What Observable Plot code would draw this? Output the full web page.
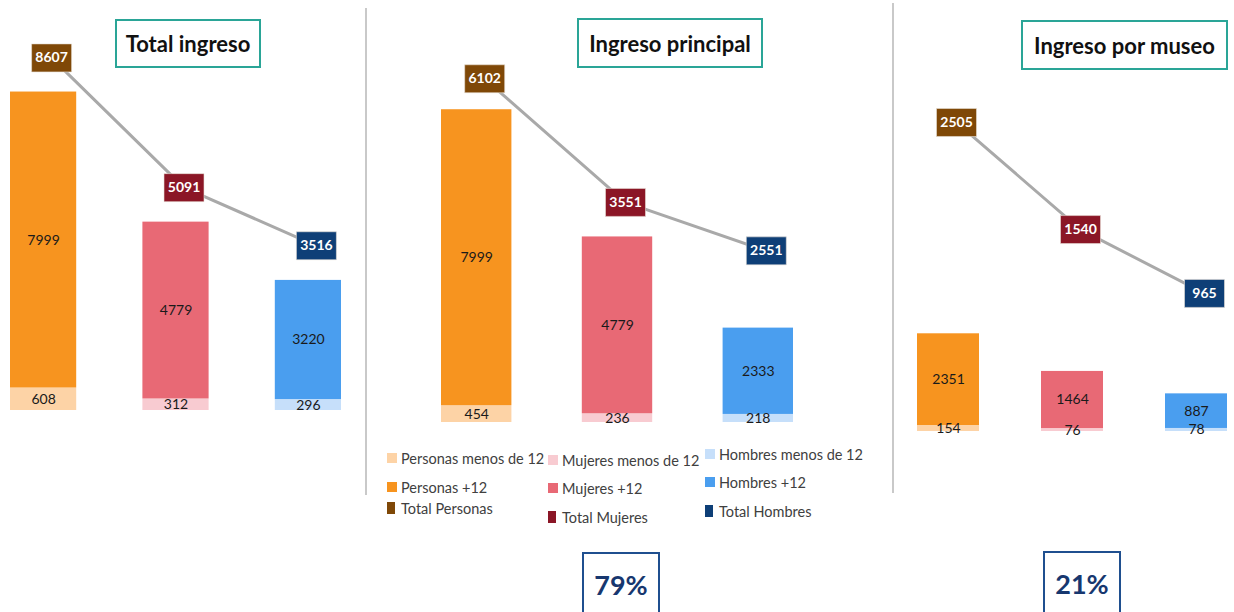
<!DOCTYPE html>
<html>
<head>
<meta charset="utf-8">
<script src="https://cdn.jsdelivr.net/npm/d3@7"></script>
<script src="https://cdn.jsdelivr.net/npm/@observablehq/plot@0.6"></script>
<style>
  html, body { margin: 0; padding: 0; background: #fff; }
  body { width: 1234px; height: 612px; overflow: hidden; font-family: Lato, "Open Sans", sans-serif; }
  #root { position: relative; width: 1234px; height: 612px; }
  .layer { position: absolute; top: 0; }
  .layer svg { position: absolute; left: 0; top: 0; overflow: visible; }
  .title { position: absolute; box-sizing: border-box; border: 2.5px solid #2aa597; background: #fff;
           display: flex; align-items: center; justify-content: center; font-weight: 700; font-size: 22px; color: #111; }
  .divider { position: absolute; width: 2px; background: #c9c9c9; }
  .leg { position: absolute; font-size: 14.5px; color: #404040; white-space: nowrap; display: flex; align-items: center; }
  .sw { display: inline-block; width: 10px; height: 10px; margin-right: 4px; }
  .pct { position: absolute; box-sizing: border-box; border: 2.5px solid #1f4f8f; display: flex; align-items: center;
         justify-content: center; font-weight: 700; font-size: 27px; color: #17376f; }
</style>
</head>
<body>
<div id="root"></div>
<script>
// ---------- data ----------
const categories = ["Personas", "Mujeres", "Hombres"];
const panelTitles = ["Total ingreso", "Ingreso principal", "Ingreso por museo"];
const under12 = [[608, 312, 296], [454, 236, 218], [154, 76, 78]];
const over12  = [[7999, 4779, 3220], [7999, 4779, 2333], [2351, 1464, 887]];
const totals  = [[8607, 5091, 3516], [6102, 3551, 2551], [2505, 1540, 965]];
const shares  = ["", "79%", "21%"];
const underColors = ["#fdd3a6", "#f8cbd1", "#c6dffa"];
const overColors  = ["#f7941f", "#e86975", "#4a9eef"];
const totalColors = ["#7f4807", "#8b1626", "#0e3f77"];
const legendUnder = ["Personas menos de 12", "Mujeres menos de 12", "Hombres menos de 12"];
const legendOver  = ["Personas +12", "Mujeres +12", "Hombres +12"];
const legendTotal = ["Total Personas", "Total Mujeres", "Total Hombres"];

// ---------- layout (styles only) ----------
const panelLayout = [
  {left: 0,   width: 366, ml: 10, mr: 25,  barZero: 410, barMax: 11081, lineZero: 375, lineMax: 10163,
   title: {left: 115, top: 19, w: 146, h: 49}},
  {left: 366, width: 527, ml: 75, mr: 100, barZero: 422, barMax: 11405, lineZero: 374, lineMax: 7717,
   title: {left: 577, top: 18, w: 186, h: 50}},
  {left: 893, width: 341, ml: 24, mr: 7,   barZero: 431, barMax: 11050, lineZero: 400, lineMax: 3604,
   title: {left: 1021, top: 20, w: 207, h: 50}}
];
const H = 440;
const root = document.getElementById("root");

const boxSymbol = { draw(ctx) { ctx.rect(-20, -14, 40, 28); } };

panelLayout.forEach((L, p) => {
  const layer = document.createElement("div");
  layer.className = "layer";
  layer.style.left = L.left + "px";
  layer.style.width = L.width + "px";
  layer.style.height = H + "px";
  root.appendChild(layer);

  const rows = [];
  categories.forEach((c, i) => {
    rows.push({cat: c, seg: "u", value: under12[p][i], color: underColors[i]});
    rows.push({cat: c, seg: "o", value: over12[p][i], color: overColors[i]});
  });
  const xOpt = {type: "band", domain: categories, axis: null, paddingInner: 0.5, paddingOuter: 0, round: false};

  const bars = Plot.plot({
    width: L.width, height: H, marginLeft: L.ml, marginRight: L.mr,
    marginTop: 0, marginBottom: H - L.barZero,
    x: xOpt, y: {domain: [0, L.barMax], axis: null}, color: {type: "identity"},
    style: {background: "transparent", overflow: "visible"},
    marks: [
      Plot.barY(rows, {x: "cat", y: "value", fill: "color"}),
      Plot.text(rows, Plot.stackY({x: "cat", y: "value", text: d => String(d.value),
        fill: "#1a1a1a", fontSize: 14, fontFamily: "Lato, sans-serif"}))
    ]
  });
  layer.appendChild(bars);

  const trows = categories.map((c, i) => ({cat: c, value: totals[p][i], color: totalColors[i]}));
  const lines = Plot.plot({
    width: L.width, height: H, marginLeft: L.ml, marginRight: L.mr,
    marginTop: 0, marginBottom: H - L.lineZero,
    x: xOpt, y: {domain: [0, L.lineMax], axis: null}, color: {type: "identity"},
    style: {background: "transparent", overflow: "visible"},
    marks: [
      Plot.line(trows, {x: "cat", y: "value", stroke: "#a9a9a9", strokeWidth: 3, dx: 8}),
      Plot.dot(trows, {x: "cat", y: "value", symbol: boxSymbol, fill: "color", stroke: "#e8e0d8", strokeWidth: 0.6, dx: 8}),
      Plot.text(trows, {x: "cat", y: "value", text: d => String(d.value), fill: "white",
        fontWeight: "bold", fontSize: 14, fontFamily: "Lato, sans-serif", dx: 8})
    ]
  });
  layer.appendChild(lines);

  const t = document.createElement("div");
  t.className = "title";
  Object.assign(t.style, {left: L.title.left + "px", top: L.title.top + "px", width: L.title.w + "px", height: L.title.h + "px"});
  t.textContent = panelTitles[p];
  root.appendChild(t);
});

// dividers
[{x: 365, y1: 8, y2: 495}, {x: 892, y1: 3, y2: 493}].forEach(d => {
  const el = document.createElement("div");
  el.className = "divider";
  Object.assign(el.style, {left: d.x + "px", top: d.y1 + "px", height: (d.y2 - d.y1) + "px"});
  root.appendChild(el);
});

// legend
const legCols = [
  {x: 387, ys: [458, 487, 508]},
  {x: 548, ys: [460, 488, 517]},
  {x: 705, ys: [454, 482, 511]}
];
legCols.forEach((col, i) => {
  [[legendUnder[i], underColors[i]], [legendOver[i], overColors[i]], [legendTotal[i], totalColors[i]]].forEach(([label, color], r) => {
    const el = document.createElement("div");
    el.className = "leg";
    el.style.left = col.x + "px";
    el.style.top = (col.ys[r] - 9) + "px";
    el.style.height = "18px";
    const sw = document.createElement("span");
    sw.className = "sw";
    sw.style.background = color;
    if (r === 2) { sw.style.width = "8px"; sw.style.height = "12px"; sw.style.marginRight = "6px"; }
    el.appendChild(sw);
    el.appendChild(document.createTextNode(label));
    root.appendChild(el);
  });
});

// share boxes
const pctPos = [null, {left: 582, top: 552, w: 78}, {left: 1043, top: 551, w: 78}];
shares.forEach((s, p) => {
  if (!s) return;
  const el = document.createElement("div");
  el.className = "pct";
  Object.assign(el.style, {left: pctPos[p].left + "px", top: pctPos[p].top + "px", width: pctPos[p].w + "px", height: "64px"});
  el.textContent = s;
  root.appendChild(el);
});
</script>
</body>
</html>
